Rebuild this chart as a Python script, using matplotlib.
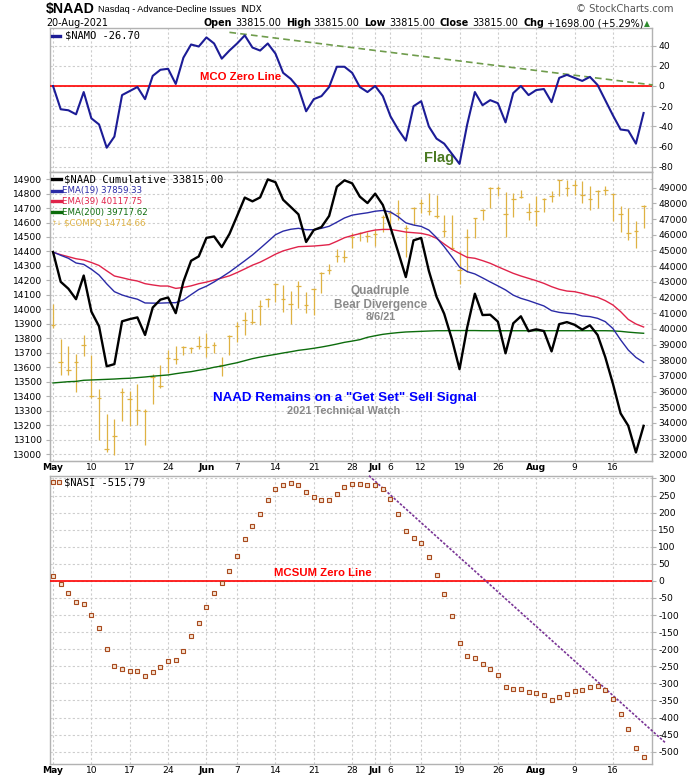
import matplotlib
matplotlib.use('Agg')
import matplotlib.pyplot as plt
from matplotlib.lines import Line2D
from matplotlib import font_manager
import numpy as np

# ---- data, trading days 3-May-2021 .. 20-Aug-2021 ----
tick_pos = [0, 5, 10, 15, 20, 24, 29, 34, 39, 42, 44, 48, 53, 58, 63, 68, 73]
tick_lab = ['May', '10', '17', '24', 'Jun', '7', '14', '21', '28',
            'Jul', '6', '12', '19', '26', 'Aug', '9', '16']
months = ['May', 'Jun', 'Jul', 'Aug']

namo = [0, -23, -24, -28, -6, -32, -38, -61, -50, -9,
        -5, -1, -13, 10, 16, 17, 2, 28, 41, 39,
        48, 42, 27, 35, 42, 50, 38, 35, 42, 32,
        13, 7, -2, -25, -13, -10, -1, 19, 19, 13,
        -1, -6, 0, -10, -30, -43, -54, -20, -15, -40,
        -52, -57, -67, -77, -38, -6, -19, -14, -17, -36,
        -7, 0, -9, -4, -3, -16, 8, 11, 8, 5,
        9, 1, -14, -29, -43, -44, -57, -26.70]

naad = [44900, 43000, 42560, 41890, 43400, 41100, 40160, 37610, 37750, 40480,
        40620, 40730, 39610, 41360, 41860, 42000, 41000, 43010, 44340, 44620,
        45800, 45890, 45210, 46050, 47200, 48370, 48130, 48380, 49530, 49350,
        48230, 47770, 47300, 45540, 46300, 46490, 47200, 49060, 49470, 49280,
        48430, 48020, 48620, 47900, 46460, 44900, 43300, 45640, 45800, 43700,
        42050, 40960, 39350, 37430, 40090, 42240, 40880, 40900, 40460, 38440,
        40350, 40800, 39850, 39970, 39860, 38560, 40300, 40430, 40260, 39950,
        40230, 39610, 38200, 36500, 34610, 33820, 32117, 33815]

ema19 = [44900, 44690, 44500, 44200, 44110, 43800, 43430, 42870, 42370, 42160,
         42010, 41890, 41650, 41640, 41640, 41660, 41670, 41840, 42180, 42510,
         42720, 42990, 43300, 43620, 43980, 44340, 44710, 45130, 45560, 46000,
         46230, 46350, 46410, 46320, 46320, 46410, 46540, 46800, 47070, 47250,
         47330, 47400, 47500, 47550, 47450, 47150, 46760, 46620, 46530, 46300,
         45820, 45240, 44600, 43940, 43650, 43500, 43250, 42990, 42740, 42480,
         42150, 41945, 41800, 41630, 41460, 41160, 41050, 40990, 40950, 40820,
         40780, 40670, 40460, 40020, 39300, 38650, 38180, 37859.33]

ema39 = [44880, 44730, 44600, 44470, 44390, 44230, 44040, 43700, 43370, 43260,
         43140, 43050, 42880, 42800, 42730, 42730, 42580, 42640, 42740, 42880,
         42980, 43110, 43240, 43380, 43590, 43820, 44060, 44250, 44500, 44760,
         44970, 45110, 45240, 45260, 45280, 45320, 45370, 45580, 45810, 45950,
         46070, 46200, 46300, 46340, 46340, 46260, 46170, 46130, 46090, 45980,
         45770, 45410, 45070, 44810, 44560, 44500, 44350, 44180, 43960, 43750,
         43540, 43370, 43220, 43070, 42900, 42690, 42520, 42410, 42370, 42260,
         42120, 42010, 41800, 41520, 41100, 40600, 40310, 40117.75]

ema200 = [36550, 36590, 36630, 36650, 36720, 36740, 36760, 36780, 36800, 36830,
          36850, 36890, 36930, 36980, 37020, 37060, 37140, 37210, 37270, 37360,
          37440, 37550, 37630, 37740, 37840, 37970, 38100, 38200, 38290, 38370,
          38460, 38540, 38630, 38690, 38760, 38840, 38930, 39030, 39140, 39220,
          39310, 39460, 39560, 39650, 39710, 39760, 39800, 39820, 39840, 39860,
          39880, 39880, 39890, 39890, 39890, 39890, 39880, 39880, 39880, 39880,
          39880, 39880, 39880, 39880, 39880, 39880, 39880, 39880, 39880, 39880,
          39880, 39880, 39880, 39870, 39840, 39790, 39750, 39717.62]

compq_hi = [14034, 13794, 13745, 13690, 13822, 13683, 13448, 13279, 13240, 13457,
            13434, 13485, 13310, 13556, 13614, 13718, 13745, 13745, 13741, 13815,
            13838, 13776, 13674, 13822, 13914, 13983, 14002, 14064, 14075, 14180,
            14168, 14127, 14196, 14122, 14145, 14261, 14311, 14415, 14410, 14526,
            14535, 14537, 14549, 14653, 14688, 14757, 14584, 14704, 14761, 14803,
            14791, 14653, 14653, 14404, 14556, 14630, 14692, 14842, 14854, 14810,
            14803, 14826, 14734, 14780, 14767, 14815, 14896, 14895, 14895, 14888,
            14849, 14826, 14849, 14796, 14711, 14699, 14607, 14722]
compq_lo = [13868, 13545, 13549, 13429, 13679, 13390, 13097, 13014, 12995, 13231,
            13191, 13203, 13064, 13346, 13459, 13561, 13625, 13683, 13695, 13729,
            13672, 13695, 13540, 13683, 13776, 13822, 13896, 13891, 14018, 14053,
            13983, 13896, 14006, 13972, 13960, 14115, 14242, 14330, 14330, 14422,
            14473, 14468, 14438, 14537, 14572, 14618, 14364, 14584, 14664, 14653,
            14634, 14503, 14420, 14173, 14260, 14496, 14616, 14699, 14780, 14503,
            14641, 14768, 14618, 14579, 14676, 14741, 14780, 14780, 14791, 14734,
            14688, 14699, 14791, 14607, 14537, 14480, 14422, 14565]
compq_cl = [13895.12, 13633.50, 13582.43, 13632.84, 13752.24, 13401.86, 13389.43,
            13031.68, 13124.99, 13429.98, 13379.05, 13303.64, 13299.74, 13535.74,
            13470.99, 13661.17, 13657.17, 13738.00, 13736.28, 13748.74, 13736.48,
            13756.33, 13614.51, 13814.49, 13881.72, 13924.98, 13911.75, 14020.33,
            14069.42, 14174.14, 14072.86, 14039.68, 14161.35, 14030.38, 14141.48,
            14253.27, 14271.73, 14369.71, 14360.39, 14500.51, 14528.33, 14503.95,
            14522.38, 14639.33, 14663.64, 14665.06, 14559.78, 14701.92, 14733.24,
            14677.65, 14644.95, 14543.13, 14427.24, 14274.98, 14498.88, 14631.95,
            14684.60, 14836.99, 14840.71, 14660.58, 14762.58, 14778.26, 14672.68,
            14681.07, 14761.29, 14780.53, 14895.12, 14835.76, 14860.18, 14788.09,
            14765.14, 14816.26, 14822.90, 14793.76, 14656.18, 14525.91, 14541.79,
            14714.66]

nasi = [13, -10, -34, -62, -69, -101, -139, -200, -250, -259,
        -265, -265, -279, -268, -253, -235, -232, -206, -162, -124,
        -77, -34, -7, 28, 72, 122, 160, 195, 236, 268,
        282, 288, 282, 259, 247, 236, 236, 253, 274, 285,
        285, 280, 280, 268, 239, 196, 145, 125, 110, 69,
        16, -39, -104, -183, -221, -227, -244, -259, -276, -312,
        -317, -317, -326, -329, -335, -350, -341, -332, -323, -320,
        -312, -309, -320, -347, -391, -434, -490, -515.79]

# hand-drawn trend lines (start / end in day index and value)
namo_trend_x = [23.0, 78.2]
namo_trend_y = [53, 1]
nasi_trend_x = [41.2, 79.9]
nasi_trend_y = [308, -475]

# ---- styling ----
names = {f.name for f in font_manager.fontManager.ttflist}
NARROW = 'Liberation Sans Narrow' if 'Liberation Sans Narrow' in names else 'Liberation Sans'
ARIAL = 'Liberation Sans'
plt.rcParams['font.family'] = ['DejaVu Sans']
plt.rcParams['axes.unicode_minus'] = False

GOLD = '#dfb243'
NAVY = '#1c1c96'
BLUE19 = '#2a2aa6'
RED39 = '#e0234a'
GREEN200 = '#0c6c0c'
GRID = dict(color='#cdcdcd', linestyle=(0, (2, 2)), linewidth=0.8)
FRAME = '#b2b2b2'

W_PX, H_PX = 700, 780


def P(xp, yp):
    return xp / W_PX, 1 - yp / H_PX


def box(top, bottom, left=49.5, right=651.5):
    return [left / W_PX, 1 - bottom / H_PX, (right - left) / W_PX, (bottom - top) / H_PX]


x = np.arange(len(naad))
XLIM = (-0.46, 78.03)

fig = plt.figure(figsize=(7, 7.8), dpi=100)
ax1 = fig.add_axes(box(28.3, 172))
ax2 = fig.add_axes(box(172, 461))
ax3 = fig.add_axes(box(475.7, 764))


def style(ax, show_dates=True):
    ax.set_xlim(*XLIM)
    ax.set_xticks(tick_pos)
    ax.grid(True, axis='x', **GRID)
    for s in ax.spines.values():
        s.set_color(FRAME)
        s.set_linewidth(1)
    ax.tick_params(axis='y', labelsize=6.6, length=3, color=FRAME, pad=2)
    ax.tick_params(axis='x', length=0, pad=1.5, labelsize=6.6)
    if show_dates:
        ax.set_xticklabels(tick_lab)
        for lab, t in zip(tick_lab, ax.get_xticklabels()):
            if lab in months:
                t.set_fontweight('bold')
    else:
        ax.set_xticklabels([])


# ---- top panel: $NAMO ----
style(ax1, show_dates=False)
ax1.set_ylim(-85, 57)
ax1.yaxis.tick_right()
ax1.set_yticks(np.arange(-80, 41, 20))
ax1.grid(True, axis='y', **GRID)
ax1.axhline(0, color='#ff0000', lw=1.2, zorder=3)
ax1.plot(namo_trend_x, namo_trend_y, color='#6f9c4c', lw=1.2,
         ls=(0, (4, 2.5)), clip_on=False, zorder=4)
ax1.plot(x, namo, color=NAVY, lw=1.5, zorder=5)
ax1.text(24.5, 9, 'MCO Zero Line', color='#ff0000', fontfamily=ARIAL,
         fontweight='bold', fontsize=8.2, ha='center', va='center')
ax1.text(50.3, -71, 'Flag', color='#4b7a22', fontfamily=ARIAL,
         fontweight='bold', fontsize=10.5, ha='center', va='center')

# ---- middle panel: $NAAD cumulative + EMAs (right), $COMPQ bars (left) ----
style(ax2)
ax2.set_ylim(12952, 14949)
ax2.set_yticks(np.arange(13000, 14901, 100))
ax2.grid(True, axis='y', **GRID)
ax2.vlines(x, compq_lo, compq_hi, color=GOLD, lw=0.9)
ax2.hlines(compq_cl, x - 0.3, x + 0.3, color=GOLD, lw=0.9)

ax2r = ax2.twinx()
ax2r.set_ylim(31573, 50001)
ax2r.set_yticks(np.arange(32000, 49001, 1000))
ax2r.tick_params(axis='y', labelsize=6.6, length=3, color=FRAME, pad=2)
for s in ax2r.spines.values():
    s.set_color(FRAME)
ax2r.plot(x, ema200, color=GREEN200, lw=1.0)
ax2r.plot(x, ema39, color=RED39, lw=1.0)
ax2r.plot(x, ema19, color=BLUE19, lw=1.0)
ax2r.plot(x, naad, color='black', lw=1.7)

ax2.text(42.7, 14127, 'Quadruple', color='#8a8a8a', fontfamily=ARIAL,
         fontweight='bold', fontsize=8.5, ha='center', va='center')
ax2.text(42.7, 14028, 'Bear Divergence', color='#8a8a8a', fontfamily=ARIAL,
         fontweight='bold', fontsize=8.5, ha='center', va='center')
ax2.text(42.7, 13947, '8/6/21', color='#8a8a8a', fontfamily=ARIAL,
         fontweight='bold', fontsize=7.8, ha='center', va='center')
ax2.text(38.1, 13390, 'NAAD Remains on a "Get Set" Sell Signal', color='#0000ff',
         fontfamily=ARIAL, fontweight='bold', fontsize=9.6, ha='center', va='center')
ax2.text(37.9, 13300, '2021 Technical Watch', color='#8a8a8a', fontfamily=ARIAL,
         fontweight='bold', fontsize=7.9, ha='center', va='center')

# ---- bottom panel: $NASI ----
style(ax3)
ax3.set_ylim(-536, 308)
ax3.yaxis.tick_right()
ax3.set_yticks(np.arange(-500, 301, 50))
ax3.grid(True, axis='y', **GRID)
ax3.axhline(0, color='#ff0000', lw=1.2, zorder=3)
ax3.plot(nasi_trend_x, nasi_trend_y, color='#7a3596', lw=1.2,
         ls=(0, (1.5, 1)), clip_on=False, zorder=4)
ax3.plot(x, nasi, ls='none', marker='s', ms=2.7, mfc='#f6e4d2',
         mec='#a84a1e', mew=0.8, zorder=5)
ax3.text(35.2, 23, 'MCSUM Zero Line', color='#ff0000', fontfamily=ARIAL,
         fontweight='bold', fontsize=8.2, ha='center', va='center')

# ---- legends ----
MONO = 'DejaVu Sans Mono'


def swatch(x0, x1, y, color, lw=2.4):
    (a, b), (c, d) = P(x0, y), P(x1, y)
    fig.add_artist(Line2D([a, c], [b, d], color=color, lw=lw, transform=fig.transFigure))


swatch(51.7, 60, 35.5, NAVY)
fig.text(*P(65, 35.5), '$NAMO -26.70', fontfamily=MONO, fontsize=7.5, va='center')

rows = [179.3, 190.5, 201.3, 212.5, 223.2]
swatch(52.3, 61, rows[0], 'black')
fig.text(*P(64.3, rows[0]), '$NAAD Cumulative 33815.00', fontfamily=MONO,
         fontsize=7.6, va='center')
for yy, col, lab in zip(rows[1:4], [BLUE19, RED39, GREEN200],
                        ['EMA(19) 37859.33', 'EMA(39) 40117.75', 'EMA(200) 39717.62']):
    swatch(52.3, 61, yy, col)
    fig.text(*P(62.3, yy), lab, color=col, fontsize=6.2, va='center')
fig.text(*P(51.5, rows[4]), '\u2191\u2193', color=GOLD, fontsize=4.6,
         va='center')
fig.text(*P(64, rows[4]), '$COMPQ 14714.66', color=GOLD, fontsize=6.2, va='center')

for mx in (53.3, 59.3):
    fig.add_artist(Line2D([P(mx, 0)[0]], [P(0, 482.3)[1]], ls='none', marker='s',
                          ms=2.7, mfc='#f6e4d2', mec='#a84a1e', mew=0.8,
                          transform=fig.transFigure))
fig.text(*P(64.3, 482.3), '$NASI -515.79', fontfamily=MONO, fontsize=7.5, va='center')

# ---- header ----
renderer = fig.canvas.get_renderer()
title_parts = [('$NAAD', dict(fontfamily=NARROW, fontweight='bold', fontsize=10.2), 3),
               ('Nasdaq - Advance-Decline Issues', dict(fontfamily=NARROW, fontsize=6.6), 4),
               ('INDX', dict(fontsize=6.3), 0)]
xcur = 46
for s, kw, gap in title_parts:
    t = fig.text(*P(xcur, 9), s, va='center', **kw)
    xcur += t.get_window_extent(renderer).width + gap

fig.text(*P(673, 9.5), '\u00a9 StockCharts.com', ha='right', fontsize=7.2,
         color='#555555', va='center')
fig.text(*P(46, 23.3), '20-Aug-2021', fontsize=6.9, va='center')

header_parts = [('Open', True, 3), ('33815.00', False, 5), ('High', True, 3),
                ('33815.00', False, 5), ('Low', True, 3), ('33815.00', False, 5),
                ('Close', True, 3), ('33815.00', False, 5), ('Chg', True, 3),
                ('+1698.00 (+5.29%)', False, 0.5)]
xcur = 203.3
for s, bold, gap in header_parts:
    t = fig.text(*P(xcur, 23.3), s, fontsize=6.9, va='center',
                 fontweight='bold' if bold else 'normal')
    xcur += t.get_window_extent(renderer).width + gap
fig.text(*P(xcur, 23.3), '\u25b2', fontsize=5.5, color='#2e8b2e', va='center')

fig.savefig('out.png', dpi=100)
